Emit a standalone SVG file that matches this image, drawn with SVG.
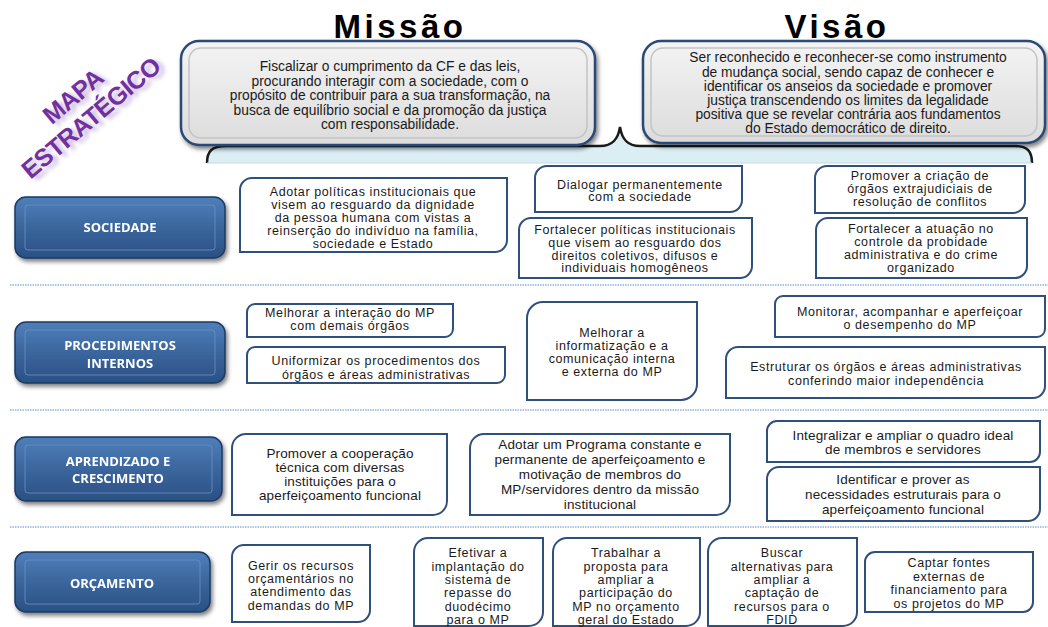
<svg xmlns="http://www.w3.org/2000/svg" width="1048" height="627" viewBox="0 0 1048 627">
<style>
  .obj { fill: #ffffff; stroke: #2f4f7c; stroke-width: 2; }
  .t { font-family: "Liberation Sans", Arial, sans-serif; font-size: 12.5px; letter-spacing: 0.6px; fill: #1a1a1a; text-anchor: middle; }
  .t2 { font-family: "Liberation Sans", Arial, sans-serif; font-size: 13.5px; letter-spacing: 0.15px; fill: #1a1a1a; text-anchor: middle; }
  .mv { font-family: "Liberation Sans", Arial, sans-serif; font-size: 13.8px; fill: #1a1a1a; text-anchor: middle; }
  .title { font-family: "Liberation Sans", Arial, sans-serif; font-size: 33px; font-weight: bold; letter-spacing: 3.5px; fill: #000; text-anchor: middle; }
  .btn { fill: url(#btnGrad); stroke: #1d3a63; stroke-width: 1.5; }
  .btnIn { fill: none; stroke: #6a92c4; stroke-width: 1; opacity: 0.8; }
  .bt { font-family: "Open Sans", "Liberation Sans", sans-serif; font-size: 13px; font-weight: bold; fill: #ffffff; text-anchor: middle; }
  .sep { stroke: #a9c8e6; stroke-width: 2; stroke-dasharray: 1.5 1; fill: none; }
  .bigbox { fill: url(#grayGrad); stroke: #2b4a75; stroke-width: 2.5; }
  .bigIn { fill: none; stroke: #c4c4c4; stroke-width: 1.5; }
  .mapa { font-family: "Liberation Sans", Arial, sans-serif; font-size: 25px; font-weight: bold; letter-spacing: -0.6px; fill: #7030a0; text-anchor: middle; }
</style>
<defs>
  <linearGradient id="btnGrad" x1="0" y1="0" x2="0" y2="1">
    <stop offset="0" stop-color="#4f7fba"/>
    <stop offset="0.5" stop-color="#3b669d"/>
    <stop offset="1" stop-color="#2a5084"/>
  </linearGradient>
  <linearGradient id="grayGrad" x1="0" y1="0" x2="0" y2="1">
    <stop offset="0" stop-color="#f4f4f4"/>
    <stop offset="1" stop-color="#dcdcdc"/>
  </linearGradient>
  <filter id="shadow" x="-10%" y="-10%" width="130%" height="140%">
    <feDropShadow dx="2" dy="3" stdDeviation="2" flood-color="#000" flood-opacity="0.5"/>
  </filter>
  <filter id="blur" x="-20%" y="-50%" width="140%" height="200%">
    <feGaussianBlur stdDeviation="2"/>
  </filter>
</defs>

<rect width="1048" height="627" fill="#ffffff"/>

<g id="mapa-estrategico" transform="translate(81,106) rotate(-40)">
  <g filter="url(#blur)" opacity="0.35" transform="translate(3,5)">
    <text class="mapa" x="0" y="-4">MAPA</text>
    <text class="mapa" x="0" y="24">ESTRATÉGICO</text>
  </g>
  <text class="mapa" x="0" y="-4">MAPA</text>
  <text class="mapa" x="0" y="24">ESTRATÉGICO</text>
</g>

<g id="brace">
  <path d="M207,163 C207,151 212,146 226,146 H600 C612,146 618,140 620,127 C622,140 628,146 640,146 H1015 C1028,146 1032,152 1032,163 Z" fill="#dbeef4" stroke="none"/>
  <path d="M207,163 C207,151 212,146 226,146 H600 C612,146 618,140 620,127 C622,140 628,146 640,146 H1015 C1028,146 1032,152 1032,163" fill="none" stroke="#1a1a1a" stroke-width="2.5"/>
  <line x1="207" y1="163" x2="1032" y2="163" stroke="#c8d8e0" stroke-width="1"/>
</g>

<g id="missao">
  <text class="title" x="400" y="38">Missão</text>
  <rect class="bigbox" x="181" y="41" width="414" height="104" rx="18" filter="url(#shadow)"/>
  <rect class="bigIn" x="189" y="48" width="398" height="90" rx="12"/>
  <text class="mv" x="390" y="71">Fiscalizar o cumprimento da CF e das leis,</text>
  <text class="mv" x="390" y="85.5">procurando interagir com a sociedade, com o</text>
  <text class="mv" x="390" y="100">propósito de contribuir para a sua transformação, na</text>
  <text class="mv" x="390" y="114.5">busca de equilíbrio social e da promoção da justiça</text>
  <text class="mv" x="390" y="129">com responsabilidade.</text>
</g>

<g id="visao">
  <text class="title" x="837" y="38">Visão</text>
  <rect class="bigbox" x="643" y="41" width="402" height="102" rx="18" filter="url(#shadow)"/>
  <rect class="bigIn" x="651" y="48" width="386" height="88" rx="12"/>
  <text class="mv" x="848" y="62">Ser reconhecido e reconhecer-se como instrumento</text>
  <text class="mv" x="848" y="76.5">de mudança social, sendo capaz de conhecer e</text>
  <text class="mv" x="848" y="90.5">identificar os anseios da sociedade e promover</text>
  <text class="mv" x="848" y="104.5">justiça transcendendo os limites da legalidade</text>
  <text class="mv" x="848" y="119">positiva que se revelar contrária aos fundamentos</text>
  <text class="mv" x="848" y="133">do Estado democrático de direito.</text>
</g>

<g id="separators">
  <line class="sep" x1="10" y1="285" x2="1048" y2="285"/>
  <line class="sep" x1="10" y1="410" x2="1048" y2="410"/>
  <line class="sep" x1="10" y1="527" x2="1048" y2="527"/>
</g>

<g id="connectors"></g>

<!-- Category buttons -->
<g id="cat-sociedade" filter="url(#shadow)">
  <rect class="btn" x="15" y="197" width="210" height="61" rx="11"/>
  <rect class="btnIn" x="25" y="205" width="190" height="45" rx="3"/>
  <text class="bt" x="120" y="232">SOCIEDADE</text>
</g>
<g id="cat-procedimentos" filter="url(#shadow)">
  <rect class="btn" x="15" y="322" width="210" height="61" rx="11"/>
  <rect class="btnIn" x="25" y="330" width="190" height="45" rx="3"/>
  <text class="bt" x="120" y="350">PROCEDIMENTOS</text>
  <text class="bt" x="120" y="368">INTERNOS</text>
</g>
<g id="cat-aprendizado" filter="url(#shadow)">
  <rect class="btn" x="15" y="437" width="207" height="64" rx="11"/>
  <rect class="btnIn" x="25" y="445" width="187" height="48" rx="3"/>
  <text class="bt" x="118" y="466">APRENDIZADO E</text>
  <text class="bt" x="118" y="483">CRESCIMENTO</text>
</g>
<g id="cat-orcamento" filter="url(#shadow)">
  <rect class="btn" x="15" y="552" width="195" height="60" rx="11"/>
  <rect class="btnIn" x="25" y="560" width="175" height="44" rx="3"/>
  <text class="bt" x="112" y="588">ORÇAMENTO</text>
</g>

<!-- Sociedade -->
<g id="s1">
  <path class="obj" d="M252,178 H507 V240 A12,12 0 0 1 495,252 H240 V190 A12,12 0 0 1 252,178 Z"/>
  <text class="t" x="373" y="196">Adotar políticas institucionais que</text>
  <text class="t" x="373" y="209">visem ao resguardo da dignidade</text>
  <text class="t" x="373" y="222">da pessoa humana com vistas a</text>
  <text class="t" x="373" y="235">reinserção do indivíduo na família,</text>
  <text class="t" x="373" y="248">sociedade e Estado</text>
</g>
<g id="s2">
  <path class="obj" d="M547,166 H742 V200 A12,12 0 0 1 730,212 H535 V178 A12,12 0 0 1 547,166 Z"/>
  <text class="t" x="640" y="189">Dialogar permanentemente</text>
  <text class="t" x="640" y="201">com a sociedade</text>
</g>
<g id="s3">
  <path class="obj" d="M531,218 H752 V266 A12,12 0 0 1 740,278 H519 V230 A12,12 0 0 1 531,218 Z"/>
  <text class="t" x="635" y="234">Fortalecer políticas institucionais</text>
  <text class="t" x="635" y="247">que visem ao resguardo dos</text>
  <text class="t" x="635" y="260">direitos coletivos, difusos e</text>
  <text class="t" x="635" y="272">individuais homogêneos</text>
</g>
<g id="s4">
  <path class="obj" d="M827,166 H1025 V201 A12,12 0 0 1 1013,213 H815 V178 A12,12 0 0 1 827,166 Z"/>
  <text class="t" x="920" y="180">Promover a criação de</text>
  <text class="t" x="920" y="193">órgãos extrajudiciais de</text>
  <text class="t" x="920" y="206">resolução de conflitos</text>
</g>
<g id="s5">
  <path class="obj" d="M828,218 H1027 V266 A12,12 0 0 1 1015,278 H816 V230 A12,12 0 0 1 828,218 Z"/>
  <text class="t" x="921" y="233">Fortalecer a atuação no</text>
  <text class="t" x="921" y="246">controle da probidade</text>
  <text class="t" x="921" y="259">administrativa e do crime</text>
  <text class="t" x="921" y="272">organizado</text>
</g>

<!-- Procedimentos internos -->
<g id="p1">
  <path class="obj" d="M255,304 H453 V329 A8,8 0 0 1 445,337 H247 V312 A8,8 0 0 1 255,304 Z"/>
  <text class="t" x="350" y="317">Melhorar a interação do MP</text>
  <text class="t" x="350" y="330">com demais órgãos</text>
</g>
<g id="p2">
  <path class="obj" d="M255,347 H505 V375 A8,8 0 0 1 497,383 H247 V355 A8,8 0 0 1 255,347 Z"/>
  <text class="t" x="376" y="365">Uniformizar os procedimentos dos</text>
  <text class="t" x="376" y="379">órgãos e áreas administrativas</text>
</g>
<g id="p3">
  <path class="obj" d="M543,302 H697 V384 A16,16 0 0 1 681,400 H527 V318 A16,16 0 0 1 543,302 Z"/>
  <text class="t" x="612" y="337">Melhorar a</text>
  <text class="t" x="612" y="350">informatização e a</text>
  <text class="t" x="612" y="363">comunicação interna</text>
  <text class="t" x="612" y="376">e externa do MP</text>
</g>
<g id="p4">
  <path class="obj" d="M783,296 H1045 V329 A8,8 0 0 1 1037,337 H775 V304 A8,8 0 0 1 783,296 Z"/>
  <text class="t" x="910" y="316">Monitorar, acompanhar e aperfeiçoar</text>
  <text class="t" x="910" y="329">o desempenho do MP</text>
</g>
<g id="p5">
  <path class="obj" d="M738,347 H1045 V386 A12,12 0 0 1 1033,398 H726 V359 A12,12 0 0 1 738,347 Z"/>
  <text class="t" x="886" y="371">Estruturar os órgãos e áreas administrativas</text>
  <text class="t" x="886" y="385">conferindo maior independência</text>
</g>

<!-- Aprendizado e crescimento -->
<g id="a1">
  <path class="obj" d="M246,434 H447 V501 A14,14 0 0 1 433,515 H232 V448 A14,14 0 0 1 246,434 Z"/>
  <text class="t2" x="340" y="458">Promover a cooperação</text>
  <text class="t2" x="340" y="472">técnica com diversas</text>
  <text class="t2" x="340" y="486">instituições para o</text>
  <text class="t2" x="340" y="500">aperfeiçoamento funcional</text>
</g>
<g id="a2">
  <path class="obj" d="M484,434 H730 V501 A14,14 0 0 1 716,515 H470 V448 A14,14 0 0 1 484,434 Z"/>
  <text class="t2" x="600" y="449">Adotar um Programa constante e</text>
  <text class="t2" x="600" y="464">permanente de aperfeiçoamento e</text>
  <text class="t2" x="600" y="479">motivação de membros do</text>
  <text class="t2" x="600" y="494">MP/servidores dentro da missão</text>
  <text class="t2" x="600" y="509">institucional</text>
</g>
<g id="a3">
  <path class="obj" d="M777,421 H1040 V452 A10,10 0 0 1 1030,462 H767 V431 A10,10 0 0 1 777,421 Z"/>
  <text class="t2" x="903" y="440">Integralizar e ampliar o quadro ideal</text>
  <text class="t2" x="903" y="454">de membros e servidores</text>
</g>
<g id="a4">
  <path class="obj" d="M779,467 H1040 V509 A12,12 0 0 1 1028,521 H767 V479 A12,12 0 0 1 779,467 Z"/>
  <text class="t2" x="903" y="484">Identificar e prover as</text>
  <text class="t2" x="903" y="499">necessidades estruturais para o</text>
  <text class="t2" x="903" y="514">aperfeiçoamento funcional</text>
</g>

<!-- Orçamento -->
<g id="o1">
  <path class="obj" d="M244,545 H370 V610 A12,12 0 0 1 358,622 H232 V557 A12,12 0 0 1 244,545 Z"/>
  <text class="t" x="301" y="570">Gerir os recursos</text>
  <text class="t" x="301" y="583">orçamentários no</text>
  <text class="t" x="301" y="596">atendimento das</text>
  <text class="t" x="301" y="610">demandas do MP</text>
</g>
<g id="o2">
  <path class="obj" d="M428,538 H543 V612 A14,14 0 0 1 529,626 H414 V552 A14,14 0 0 1 428,538 Z"/>
  <text class="t" x="478" y="557">Efetivar a</text>
  <text class="t" x="478" y="571">implantação do</text>
  <text class="t" x="478" y="584">sistema de</text>
  <text class="t" x="478" y="597">repasse do</text>
  <text class="t" x="478" y="611">duodécimo</text>
  <text class="t" x="478" y="624">para o MP</text>
</g>
<g id="o3">
  <path class="obj" d="M567,538 H700 V612 A14,14 0 0 1 686,626 H553 V552 A14,14 0 0 1 567,538 Z"/>
  <text class="t" x="626" y="557">Trabalhar a</text>
  <text class="t" x="626" y="571">proposta para</text>
  <text class="t" x="626" y="584">ampliar a</text>
  <text class="t" x="626" y="597">participação do</text>
  <text class="t" x="626" y="611">MP no orçamento</text>
  <text class="t" x="626" y="624">geral do Estado</text>
</g>
<g id="o4">
  <path class="obj" d="M722,538 H857 V612 A14,14 0 0 1 843,626 H708 V552 A14,14 0 0 1 722,538 Z"/>
  <text class="t" x="782" y="557">Buscar</text>
  <text class="t" x="782" y="571">alternativas para</text>
  <text class="t" x="782" y="584">ampliar a</text>
  <text class="t" x="782" y="597">captação de</text>
  <text class="t" x="782" y="611">recursos para o</text>
  <text class="t" x="782" y="624">FDID</text>
</g>
<g id="o5">
  <path class="obj" d="M875,552 H1033 V602 A10,10 0 0 1 1023,612 H865 V562 A10,10 0 0 1 875,552 Z"/>
  <text class="t" x="949" y="567">Captar fontes</text>
  <text class="t" x="949" y="581">externas de</text>
  <text class="t" x="949" y="594">financiamento para</text>
  <text class="t" x="949" y="608">os projetos do MP</text>
</g>
</svg>
